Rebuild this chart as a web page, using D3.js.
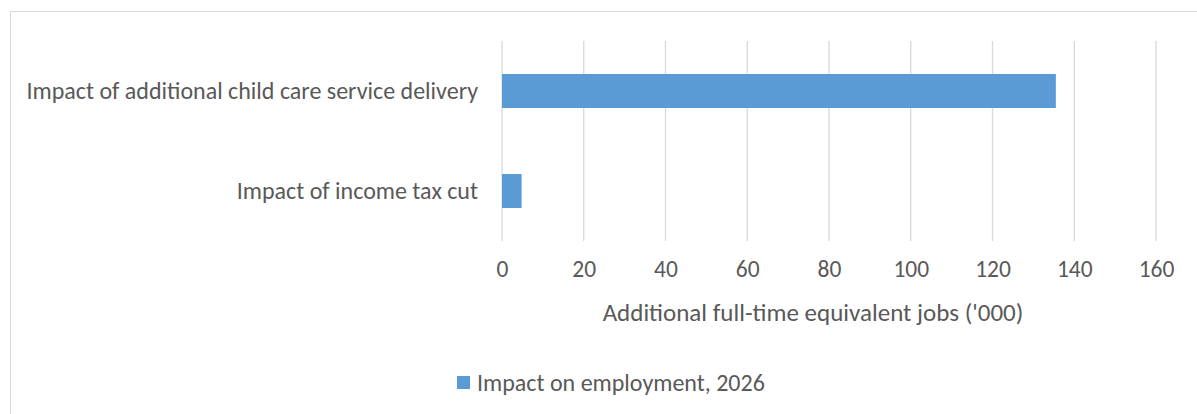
<!DOCTYPE html>
<meta charset="utf-8">
<html><head>
<style>
body { margin: 0; background: #fff; }
text {
  font-family: Carlito, Calibri, "Open Sans", sans-serif;
  fill: #595959;
}
.grid line { stroke: #d9d9d9; stroke-width: 1.3px; }
</style>
</head>
<body>
<svg width="1197" height="414"></svg>
<script src="https://cdn.jsdelivr.net/npm/d3@7"></script>
<script>

var categories = ["Impact of additional child care service delivery", "Impact of income tax cut"];
var values = [135.5, 4.8];
var tickValues = [0, 20, 40, 60, 80, 100, 120, 140, 160];
var seriesName = "Impact on employment, 2026";
var axisTitle = "Additional full-time equivalent jobs ('000)";

var svg = d3.select("svg");

// chart frame (right and bottom edges fall outside the picture)
svg.append("rect")
    .attr("x", 10.5).attr("y", 11.5)
    .attr("width", 1300).attr("height", 500)
    .attr("fill", "none")
    .attr("stroke", "#d9d9d9");

var x = d3.scaleLinear().domain([0, 160]).range([502, 1156]);
var y = d3.scaleBand().domain(categories).range([41, 241])
    .paddingInner(0.66).paddingOuter(0.33);

svg.append("g").attr("class", "grid")
  .selectAll("line")
  .data(tickValues)
  .enter().append("line")
    .attr("x1", function(d) { return x(d); })
    .attr("x2", function(d) { return x(d); })
    .attr("y1", 41).attr("y2", 241);

svg.append("g")
  .selectAll("rect")
  .data(values)
  .enter().append("rect")
    .attr("x", x(0))
    .attr("y", function(d, i) { return y(categories[i]); })
    .attr("width", function(d) { return x(d) - x(0); })
    .attr("height", y.bandwidth())
    .attr("fill", "#5b9bd5");

var xAxis = svg.append("g")
    .attr("transform", "translate(0,241)")
    .call(d3.axisBottom(x).tickValues(tickValues).tickSize(0).tickPadding(19));
xAxis.select(".domain").remove();
xAxis.selectAll("text")
    .style("font-size", "23.5px")
    .attr("fill", "#595959");

svg.append("g")
  .selectAll("text")
  .data(categories)
  .enter().append("text")
    .attr("x", 478)
    .attr("y", function(d) { return y(d) + y.bandwidth() / 2; })
    .attr("dy", "0.35em")
    .attr("text-anchor", "end")
    .style("font-size", "24px")
    .text(function(d) { return d; });

svg.append("text")
    .attr("x", 813)
    .attr("y", 312)
    .attr("dy", "0.35em")
    .attr("text-anchor", "middle")
    .style("font-size", "25px")
    .text(axisTitle);

var legend = svg.append("g").attr("transform", "translate(457,376)");
legend.append("rect")
    .attr("width", 13).attr("height", 13)
    .attr("fill", "#5b9bd5");
legend.append("text")
    .attr("x", 20).attr("y", 7)
    .attr("dy", "0.35em")
    .style("font-size", "24px")
    .text(seriesName);

</script>
</body>
</html>
